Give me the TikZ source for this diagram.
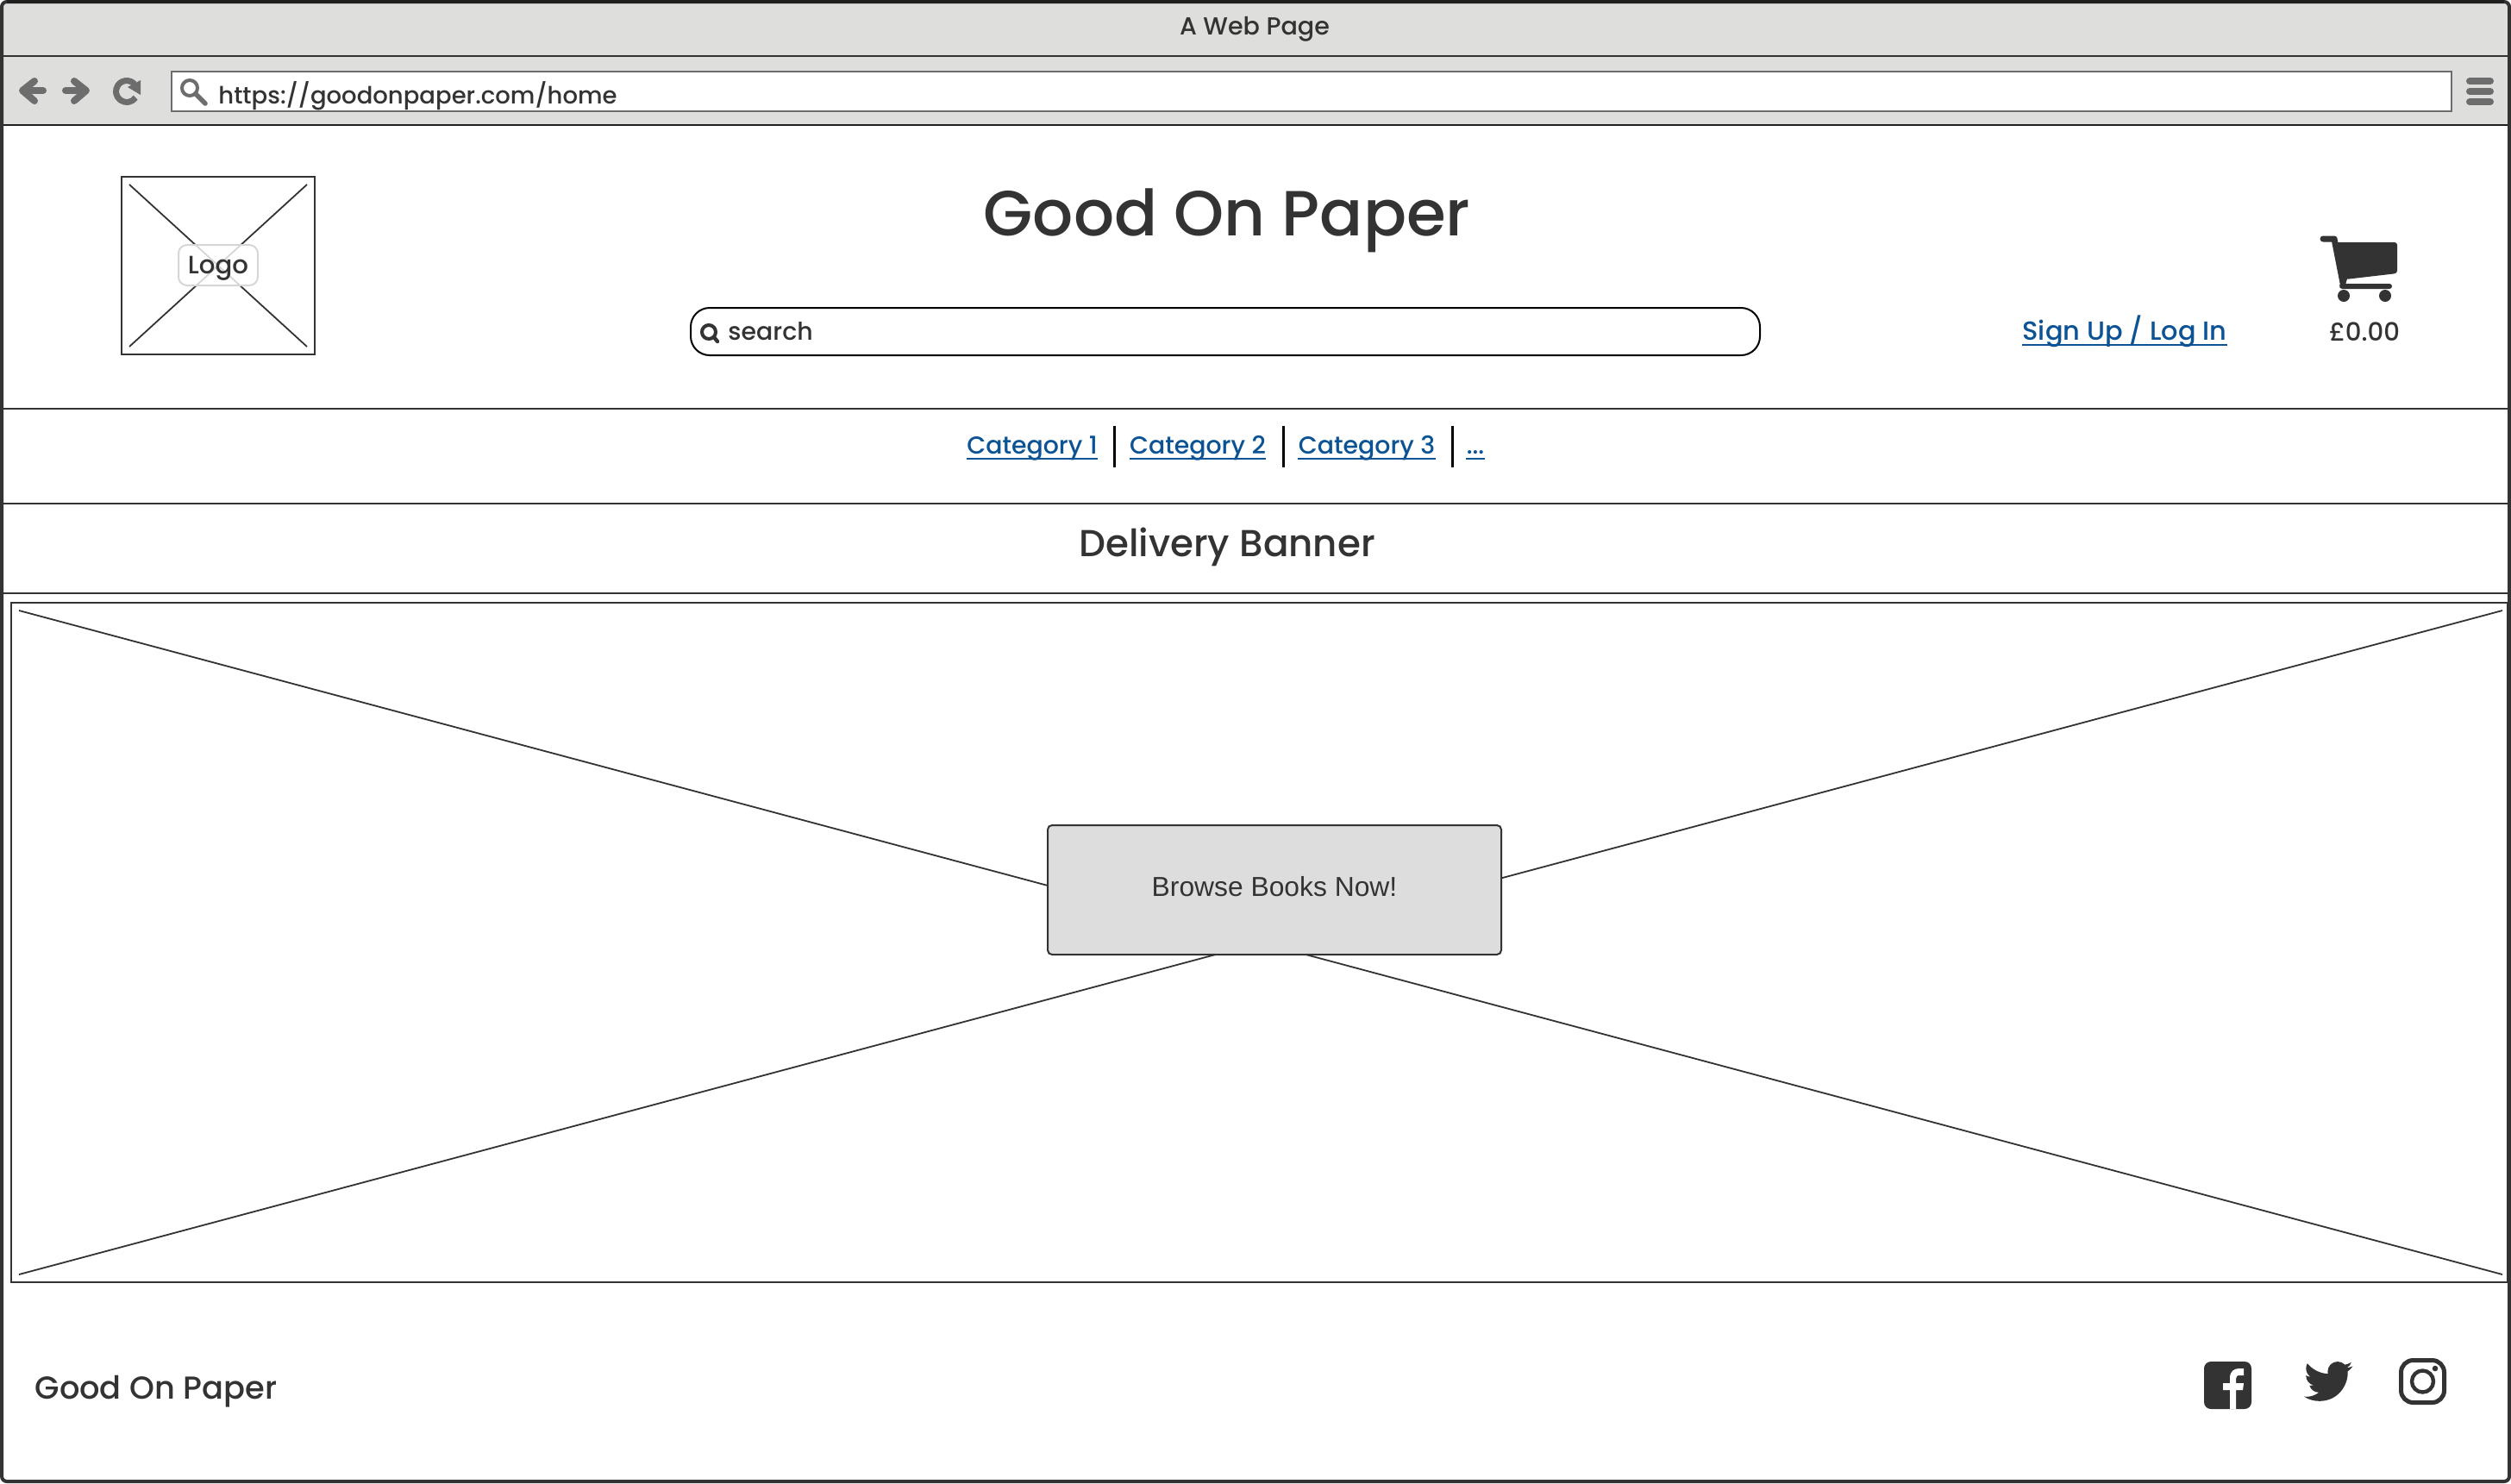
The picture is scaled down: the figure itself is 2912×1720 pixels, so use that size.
\documentclass[tikz,border=0pt]{standalone}
\usepackage{fontspec}
\setmainfont{Poppins Medium}
\newfontfamily\btnfont{Liberation Sans}
\definecolor{inkdark}{HTML}{333333}
\definecolor{inkframe}{HTML}{1F1F1F}
\definecolor{chromegrey}{HTML}{DEDEDC}
\definecolor{icongrey}{HTML}{6D6D6D}
\definecolor{btngrey}{HTML}{DDDDDD}
\definecolor{linkblue}{HTML}{0B5394}
\definecolor{labelline}{HTML}{D6D6D6}
\newcommand{\fsz}[1]{\fontsize{#1}{#1}\selectfont}
\tikzset{
    rule/.style = {draw = inkdark, line width = 1pt},
    thinline/.style = {draw = inkdark, line width = .9pt},
    icon/.style = {draw = icongrey, line width = 4pt, line cap = round, line join = round},
    txt/.style = {text = inkdark, anchor = base, inner sep = 0pt},
    linktxt/.style = {text = linkblue, anchor = base, inner sep = 0pt},
}
\begin{document}
\begin{tikzpicture}[x = 0.5pt, y = -0.5pt]

    \useasboundingbox (0,0) rectangle (2912,1720);

    \fill[chromegrey] (2,2) rectangle (2910,145);
    \draw[rule] (2,65) -- (2910,65);
    \draw[draw = inkframe, line width = 1pt] (2,145) -- (2910,145);
    \draw[draw = inkdark, line width = 2pt, rounded corners = 3pt] (2,2) rectangle (2910,1718);
    \draw[draw = inkframe, line width = 2pt] (8,2) -- (2904,2);

    \node[txt, font = \fsz{14.3}] (pagetitle) at (1455,40) {A Web Page};

    % browser toolbar
    \draw[fill = white, draw = icongrey, line width = 1pt] (199,83) rectangle (2843,129);
    \draw[icon] (50,105) -- (27,105);
    \draw[icon] (40,94) -- (26,105) -- (40,117);
    \draw[icon] (76,105) -- (99,105);
    \draw[icon] (86,94) -- (100,105) -- (86,117);
    \draw[icon, line cap = butt, line width = 3.5pt] (147,106) ++(35:12.5) arc[start angle = 35, end angle = 318, radius = 12.5];
    \fill[icongrey] (163,93) -- (148,101) -- (163,110) -- cycle;
    \draw[icon, line width = 2pt] (220,102) circle (9);
    \draw[icon, line width = 2.8pt] (227,109) -- (238,120);
    \node[txt, anchor = base west, font = \fsz{13.75}] (urltext) at (253,120) {https://goodonpaper.com/home};
    \foreach \y in {94,106,118}
        \draw[icon] (2864,\y) -- (2888,\y);

    % header
    \coordinate (logotl) at (150,214);
    \coordinate (logotr) at (356,214);
    \coordinate (logobl) at (150,402);
    \coordinate (logobr) at (356,402);
    \draw[rule] (141,205) rectangle (365,411);
    \draw[thinline] (logotl) -- (logobr);
    \draw[thinline] (logotr) -- (logobl);
    \node[draw = labelline, line width = 1pt, fill = white, fill opacity = .8, text opacity = 1, text = inkdark, rounded corners = 5pt, minimum width = 46pt, minimum height = 23.5pt, inner sep = 0pt, text height = 13.5pt, font = \fsz{14.6}] (logolabel) at (253,307.5) {Logo};

    \node[txt, font = \fsz{37}] (sitetitle) at (1423,273) {Good On Paper};
    \draw[draw = black, line width = 1pt, rounded corners = 11pt] (801,357) rectangle (2041,412);
    \draw[draw = inkdark, line width = 2pt, line cap = round] (822,385) circle (8);
    \draw[draw = inkdark, line width = 2.2pt, line cap = round] (828,391) -- (832,396);
    \node[txt, anchor = base west, font = \fsz{14.2}] (searchtext) at (844,394) {search};

    \node[linktxt, font = \fsz{15.2}] (signup) at (2464,394) {Sign Up / Log In};
    \node[txt, font = \fsz{14.6}] (total) at (2742,395) {£0.00};

    \draw[inkdark, line width = 3.5pt, line cap = round, line join = round] (2694,277) -- (2707,277) -- (2717,328);
    \fill[inkdark, rounded corners = 1.5pt] (2706,281) -- (2780,281) -- (2780,317) -- (2720,324) -- cycle;
    \draw[inkdark, line width = 3pt, line cap = round, line join = round] (2719,323) -- (2716,332) -- (2771,332);
    \fill[inkdark] (2718,343) circle (7);
    \fill[inkdark] (2766,343) circle (7);

    \draw[rule] (2,474) -- (2910,474);

    % category links
    \node[linktxt, font = \fsz{14.2}] (cata) at (1197,526) {Category 1};
    \node[linktxt, font = \fsz{14.2}] (catb) at (1389,526) {Category 2};
    \node[linktxt, font = \fsz{14.2}] (catc) at (1585,526) {Category 3};
    \node[linktxt, font = \fsz{14.2}] (catd) at (1711,526) {...};
    \foreach \x in {1292,1488,1684}
        \draw[draw = black, line width = 1.5pt] (\x,494) -- (\x,542);

    \foreach \n in {cata,catb,catc,catd}
        \draw[linkblue, line width = 1pt] ([yshift = -3pt]\n.base west) -- ([yshift = -3pt]\n.base east);
    \draw[linkblue, line width = 1pt] ([yshift = -3pt]signup.base west) -- ([yshift = -3pt]signup.base east);

    \draw[rule] (2,584) -- (2910,584);
    \node[txt, font = \fsz{21.8}] (banner) at (1423,645) {Delivery Banner};
    \draw[rule] (2,688) -- (2910,688);

    % hero image
    \coordinate (herotl) at (22,708);
    \coordinate (herotr) at (2902,708);
    \coordinate (herobl) at (22,1478);
    \coordinate (herobr) at (2902,1478);
    \draw[rule] (13,699) rectangle (2908,1487);
    \draw[thinline] (herotl) -- (herobr);
    \draw[thinline] (herotr) -- (herobl);
    \node[draw = inkdark, line width = 1pt, fill = btngrey, rounded corners = 2.5pt, minimum width = 263pt, minimum height = 75pt, inner sep = 0pt, text = inkdark, text depth = 4pt, font = \btnfont\fsz{15.9}] (browse) at (1478,1032) {Browse Books Now!};

    % footer
    \node[txt, font = \fsz{18.4}] (footname) at (181,1622) {Good On Paper};

    \fill[inkdark, rounded corners = 4pt] (2556,1579) rectangle (2611,1634);
    \fill[white] (2586,1634) -- (2586,1612) -- (2578,1612) -- (2578,1604) -- (2586,1604) -- (2586,1598)
        .. controls (2586,1590) and (2591,1587) .. (2597,1587) -- (2602,1587) -- (2602,1595) -- (2598,1595)
        .. controls (2594,1595) and (2593,1596) .. (2593,1599) -- (2593,1604) -- (2602,1604) -- (2601,1612)
        -- (2593,1612) -- (2593,1634) -- cycle;

    \begin{scope}[shift = {(2672,1573.7)}, x = 1.175pt, y = -1.175pt]
        \fill[inkdark] (23.95,4.57) .. controls (23.07,4.96) and (22.12,5.22) .. (21.13,5.35)
            .. controls (22.14,4.74) and (22.93,3.78) .. (23.29,2.62)
            .. controls (22.34,3.18) and (21.29,3.58) .. (20.16,3.81)
            .. controls (19.26,2.85) and (17.97,2.26) .. (16.57,2.26)
            .. controls (13.85,2.26) and (11.65,4.46) .. (11.65,7.18)
            .. controls (11.65,7.56) and (11.69,7.93) .. (11.78,8.29)
            .. controls (7.69,8.095) and (4.07,6.13) .. (1.64,3.16)
            .. controls (1.22,3.88) and (.97,4.73) .. (.974,5.64)
            .. controls (.974,7.35) and (1.84,8.85) .. (3.16,9.73)
            .. controls (2.35,9.71) and (1.59,9.48) .. (.934,9.12)
            -- (.934,9.18)
            .. controls (.934,11.56) and (2.63,13.55) .. (4.88,14)
            .. controls (4.17,14.19) and (3.4,14.22) .. (2.67,14.09)
            .. controls (3.3,16.05) and (5.12,17.46) .. (7.27,17.5)
            .. controls (5.59,18.82) and (3.47,19.61) .. (1.17,19.61)
            .. controls (.78,19.61) and (.39,19.59) .. (0,19.54)
            .. controls (2.18,20.94) and (4.78,21.75) .. (7.56,21.75)
            .. controls (16.61,21.75) and (21.56,14.25) .. (21.56,7.76)
            .. controls (21.56,7.55) and (21.56,7.34) .. (21.54,7.13)
            .. controls (22.5,6.44) and (23.33,5.57) .. (24,4.59) -- cycle;
    \end{scope}

    \draw[inkdark, line width = 2.5pt, rounded corners = 7pt] (2784.5,1577.5) rectangle (2834.5,1626.5);
    \draw[inkdark, line width = 2.2pt] (2809.5,1602) circle (12.5);
    \fill[inkdark] (2824,1587) circle (3.3);

\end{tikzpicture}
\end{document}
